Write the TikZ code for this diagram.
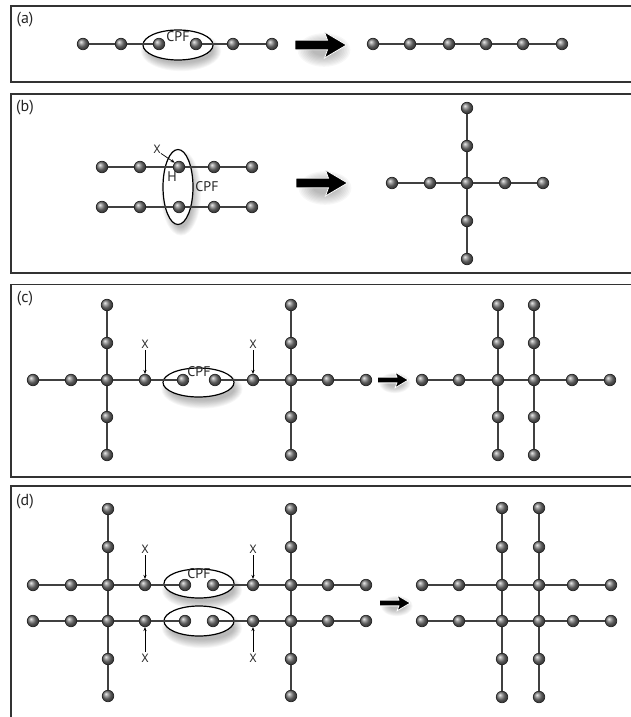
\documentclass[tikz,border=0pt]{standalone}
\usepackage{fontspec}
\setmainfont{PT Sans}
\usetikzlibrary{arrows.meta,shapes.geometric}
\pgfdeclarelayer{ovals}
\pgfdeclarelayer{edges}
\pgfsetlayers{ovals,edges,main}
\newcommand\softshadow[4]{%
  \foreach \k in {0,...,9}{\fill[black,opacity=0.03] (#1,#2) ellipse [x radius={#3+\k*0.9-3}, y radius={#4+\k*0.9-3}];}}
\newcommand\bigarr[3]{%
  \begin{scope}[shift={(#1,#2)},scale=#3]
    \begin{pgfonlayer}{ovals}
      \foreach \k in {0,...,9}{\fill[black,opacity=0.03] (3,5) ellipse [x radius={12+\k*1.6}, y radius={6+\k*1.2}];}
    \end{pgfonlayer}
    \fill[black,draw=white,line width=0.8pt] (-26,-4.8) -- (6.5,-4.8) -- (3.5,-13) -- (25.5,0) -- (3.5,13) -- (6.5,4.8) -- (-26,4.8) -- cycle;
  \end{scope}}
\begin{document}
\begin{tikzpicture}[x=1pt,y=-1pt,
  ball/.style={circle,inner sep=0pt,minimum size=11.5pt,shading=ball,ball color=black!52,draw=black!85,line width=0.7pt},
  edge/.style={draw=black!75,line width=1.7pt},
  thinedge/.style={draw=black!75,line width=1.3pt},
  panel/.style={draw=black!80,line width=1.1pt},
  oval/.style={ellipse,draw=black,line width=1.2pt,fill=white,inner sep=0pt},
  lbl/.style={font=\fontsize{16}{16}\selectfont,inner sep=0pt,text=black!85},
  cpf/.style={font=\fontsize{14}{14}\selectfont,inner sep=0pt,text=black!85},
  xl/.style={font=\fontsize{12}{12}\selectfont,inner sep=0pt,text=black!85},
  ptr/.style={draw=black,line width=0.7pt,-{Stealth[length=4pt,width=3.2pt]}},
]
\useasboundingbox (0,0) rectangle (631,717);
\clip (0,0) rectangle (631,717);
% ---------- panels ----------
\draw[panel] (11,6) rectangle (660,82);
\draw[panel] (11,94) rectangle (660,273);
\draw[panel] (11,284.5) rectangle (660,477);
\draw[panel] (11,486) rectangle (660,740);
\node[lbl] (la) at (25,20) {(a)};
\node[lbl] (lb) at (25,108) {(b)};
\node[lbl] (lc) at (25,299) {(c)};
\node[lbl] (ld) at (25,502) {(d)};

% ---------- (a) ----------
\begin{pgfonlayer}{ovals}
  \softshadow{181}{51}{35}{15}
  \node[oval,minimum width=70pt,minimum height=30pt] (ea) at (178,45) {};
\end{pgfonlayer}
\node[cpf] (cpfa) at (178,37) {CPF};
\foreach \x [count=\i] in {83,121,159,196,233,272} \node[ball] (a\i) at (\x,44) {};
\foreach \x [count=\i] in {373,410,449,486,523,562} \node[ball] (ar\i) at (\x,44) {};
\begin{pgfonlayer}{edges}
  \foreach \i/\j in {1/2,2/3,4/5,5/6} \draw[thinedge] (a\i.center) -- (a\j.center);
  \foreach \i/\j in {1/2,2/3,3/4,4/5,5/6} \draw[thinedge] (ar\i.center) -- (ar\j.center);
\end{pgfonlayer}
\bigarr{321}{45}{1}

% ---------- (b) ----------
\begin{pgfonlayer}{ovals}
  \softshadow{181}{193}{15}{37.5}
  \node[oval,minimum width=30pt,minimum height=75pt] (eb) at (178,187) {};
\end{pgfonlayer}
\foreach \x [count=\i] in {102,140,179,214,252} {
  \node[ball] (bt\i) at (\x,167) {};
  \node[ball] (bb\i) at (\x,207) {};
}
\node[xl] (xb) at (157,149) {X};
\node[cpf] (hb) at (172,177) {H};
\node[cpf] (cpfb) at (207,187) {CPF};
\draw[ptr] (xb.south east) -- (bt3.north west);
\foreach \x [count=\i] in {392,430,467,505,543} \node[ball] (bh\i) at (\x,183) {};
\foreach \y [count=\i] in {108,146} \node[ball] (bu\i) at (467,\y) {};
\foreach \y [count=\i] in {221,259} \node[ball] (bd\i) at (467,\y) {};
\begin{pgfonlayer}{edges}
  \foreach \i/\j in {1/2,2/3,3/4,4/5} {
    \draw[edge] (bt\i.center) -- (bt\j.center);
    \draw[edge] (bb\i.center) -- (bb\j.center);
    \draw[edge] (bh\i.center) -- (bh\j.center);
  }
  \draw[edge] (bu1.center) -- (bu2.center) -- (bh3.center) -- (bd1.center) -- (bd2.center);
\end{pgfonlayer}
\bigarr{322}{183}{1}

% ---------- (c) ----------
\begin{pgfonlayer}{ovals}
  \softshadow{202}{389}{35.5}{14.5}
  \node[oval,minimum width=71pt,minimum height=29pt] (ec) at (198.5,382.5) {};
\end{pgfonlayer}
\node[cpf] (cpfc) at (199,372) {CPF};
\foreach \x/\n in {33/c1,71/c2,107/cL,145/cX1,183/cI1,215/cI2,253/cX2,291/cR,328/c9,366/c10}
  \node[ball] (\n) at (\x,380) {};
\foreach \y/\k in {305/u2,343/u1,417/d1,455/d2} {
  \node[ball] (cL\k) at (107,\y) {};
  \node[ball] (cR\k) at (291,\y) {};
}
\node[xl] (xc1) at (145,344) {X};
\node[xl] (xc2) at (253,344) {X};
\draw[ptr] ([yshift=-2pt]xc1.south) -- (cX1.north);
\draw[ptr] ([yshift=-2pt]xc2.south) -- (cX2.north);
\foreach \x/\n in {422/e1,459/e2,498/eA,534/eB,572/e5,610/e6}
  \node[ball] (\n) at (\x,380) {};
\foreach \y/\k in {305/u2,343/u1,417/d1,455/d2} {
  \node[ball] (eA\k) at (498,\y) {};
  \node[ball] (eB\k) at (534,\y) {};
}
\begin{pgfonlayer}{edges}
  \foreach \a/\b in {c1/c2,c2/cL,cL/cX1,cX1/cI1,cI2/cX2,cX2/cR,cR/c9,c9/c10,
      cLu2/cLu1,cLu1/cL,cL/cLd1,cLd1/cLd2,cRu2/cRu1,cRu1/cR,cR/cRd1,cRd1/cRd2,
      e1/e2,e2/eA,eA/eB,eB/e5,e5/e6,
      eAu2/eAu1,eAu1/eA,eA/eAd1,eAd1/eAd2,eBu2/eBu1,eBu1/eB,eB/eBd1,eBd1/eBd2}
    \draw[edge] (\a.center) -- (\b.center);
\end{pgfonlayer}
\bigarr{393}{380}{0.6}

% ---------- (d) ----------
\begin{pgfonlayer}{ovals}
  \softshadow{202}{590}{35}{14.5}
  \node[oval,minimum width=70pt,minimum height=29pt] (edt) at (199,583.5) {};
  \softshadow{202}{628}{35}{15}
  \node[oval,minimum width=70pt,minimum height=30pt] (edb) at (199,621) {};
\end{pgfonlayer}
\node[cpf] (cpfd) at (199,574) {CPF};
\foreach \x/\n in {33/1,71/2,108/L,145/X1,185/I1,213/I2,253/X2,291/R,328/9,366/10} {
  \node[ball] (dt\n) at (\x,585) {};
  \node[ball] (db\n) at (\x,621) {};
}
\foreach \y/\k in {509/u2,547/u1,659/d1,696/d2} {
  \node[ball] (dL\k) at (108,\y) {};
  \node[ball] (dR\k) at (291,\y) {};
}
\node[xl] (xd1) at (145,549) {X};
\node[xl] (xd2) at (253,549) {X};
\node[xl] (xd3) at (145,658) {X};
\node[xl] (xd4) at (253,658) {X};
\draw[ptr] ([yshift=-2pt]xd1.south) -- (dtX1.north);
\draw[ptr] ([yshift=-2pt]xd2.south) -- (dtX2.north);
\draw[ptr] ([yshift=2pt]xd3.north) -- (dbX1.south);
\draw[ptr] ([yshift=2pt]xd4.north) -- (dbX2.south);
\foreach \x/\n in {422/1,459/2,502/A,539/B,573/5,611/6} {
  \node[ball] (ft\n) at (\x,585) {};
  \node[ball] (fb\n) at (\x,621) {};
}
\foreach \y/\k in {508/u2,547/u1,659/d1,697/d2} {
  \node[ball] (fA\k) at (502,\y) {};
  \node[ball] (fB\k) at (539,\y) {};
}
\begin{pgfonlayer}{edges}
  \foreach \r in {dt,db} {
    \foreach \a/\b in {1/2,2/L,L/X1,X1/I1,I2/X2,X2/R,R/9,9/10}
      \draw[edge] (\r\a.center) -- (\r\b.center);
  }
  \foreach \r in {ft,fb} {
    \foreach \a/\b in {1/2,2/A,A/B,B/5,5/6}
      \draw[edge] (\r\a.center) -- (\r\b.center);
  }
  \foreach \c in {L,R} \draw[edge] (d\c u2.center) -- (d\c u1.center) -- (dt\c.center) -- (db\c.center) -- (d\c d1.center) -- (d\c d2.center);
  \foreach \c in {A,B} \draw[edge] (f\c u2.center) -- (f\c u1.center) -- (ft\c.center) -- (fb\c.center) -- (f\c d1.center) -- (f\c d2.center);
\end{pgfonlayer}
\bigarr{395}{603}{0.6}
\end{tikzpicture}
\end{document}
